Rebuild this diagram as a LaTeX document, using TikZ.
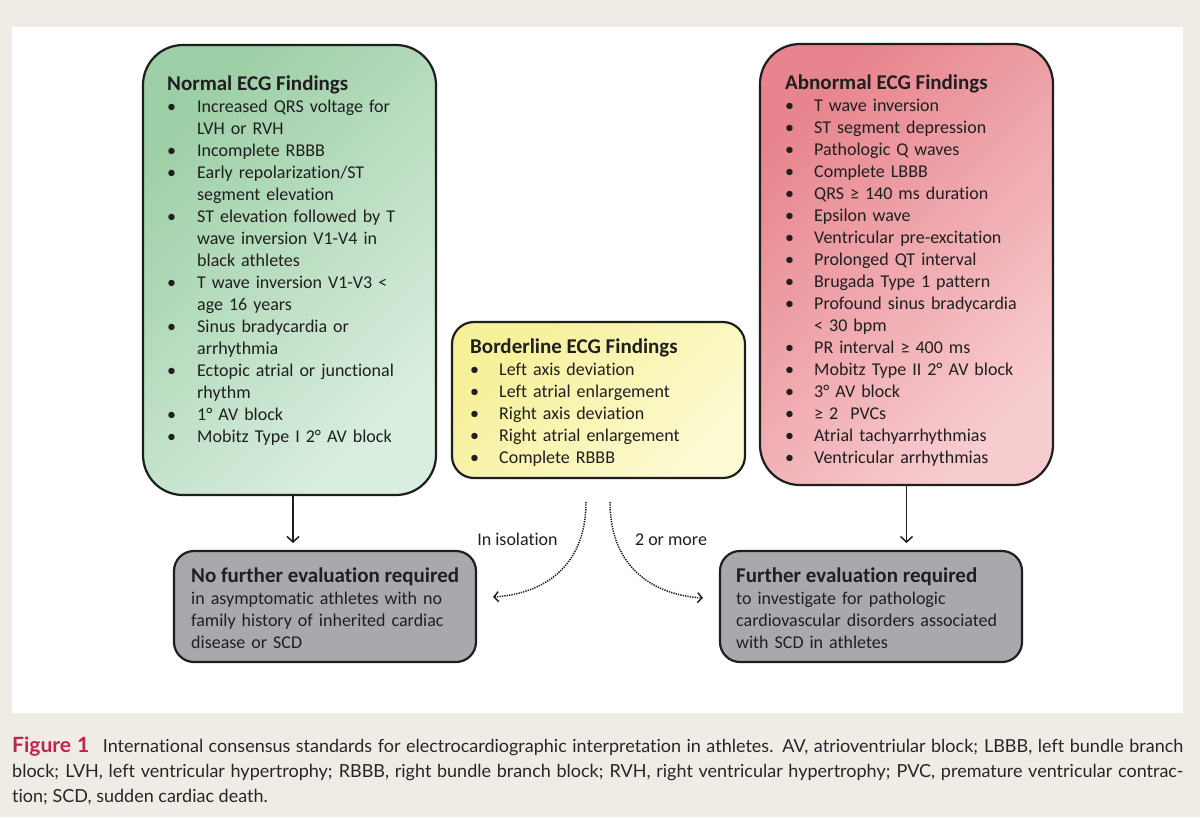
\documentclass[tikz,border=0pt]{standalone}
\usepackage{fontspec}
\setmainfont{Carlito}[Ligatures={NoCommon,NoContextual,NoRare}]
\newfontfamily\capfont{Lato}[Ligatures={NoCommon,NoContextual,NoRare}]
\usetikzlibrary{arrows.meta}
\definecolor{bgc}{HTML}{EEECE5}
\definecolor{grnA}{HTML}{9DCFA6}
\definecolor{grnB}{HTML}{DAEEE0}
\definecolor{redA}{HTML}{E8848D}
\definecolor{redB}{HTML}{F7CDD0}
\definecolor{yelA}{HTML}{F6F098}
\definecolor{yelB}{HTML}{FCFAD2}
\definecolor{grayb}{HTML}{A8A9AD}
\definecolor{bord}{HTML}{1E1E1E}
\definecolor{txt}{HTML}{1F1F1F}
\definecolor{figred}{HTML}{C4244C}
\definecolor{captxt}{HTML}{262626}
\newlength\bind
\newcommand\bi[1]{\par\noindent\strut\makebox[\bind][l]{\textbullet}#1}
\newcommand\cl[1]{\par\noindent\strut\hspace*{\bind}#1}
\newcommand\pl[1]{\par\noindent\strut#1}
\tikzset{
  box/.style={draw=bord, line width=2.2pt, anchor=north west, inner sep=0pt, outer sep=0pt},
  shadebox/.style={box, top color=#1A, bottom color=#1B, shading angle=45},
  ttl/.style={anchor=base west, inner sep=0pt, text=txt, font=\fontsize{21}{24}\selectfont\bfseries},
  lst/.style={anchor=north west, inner sep=0pt, text=txt, text width=320pt, align=left, font=\fontsize{18}{22}\selectfont},
  lbl/.style={anchor=base, inner sep=0pt, text=txt, font=\fontsize{18}{22}\selectfont},
  arr/.style={line width=1.5pt, draw=bord, -{Straight Barb[length=5.5pt,width=12pt,line width=1.5pt]}},
  dotarr/.style={line width=1.5pt, draw=bord, dash pattern=on 1.3pt off 1.1pt, -{Straight Barb[length=4.5pt,width=10pt,line width=1.4pt]}},
  captionline/.style={anchor=base west, inner sep=0pt, text=captxt, font=\capfont\fontsize{18}{25}\selectfont}
}
\begin{document}
\begin{tikzpicture}[x=1pt,y=-1pt]
\useasboundingbox (0,0) rectangle (1200,817);
\fill[bgc] (0,0) rectangle (1200,817);
\fill[white] (12,27) rectangle (1183,713);

% boxes
\node[shadebox=grn, rounded corners=40pt, minimum width=293pt, minimum height=450pt] (normal) at (143,45) {};
\node[shadebox=yel, rounded corners=22pt, minimum width=293pt, minimum height=156pt] (border) at (452,322) {};
\node[shadebox=red, rounded corners=40pt, minimum width=293pt, minimum height=441pt] (abnormal) at (760,44) {};
\node[box, fill=grayb, rounded corners=20pt, minimum width=302pt, minimum height=111pt] (noeval) at (174,551) {};
\node[box, fill=grayb, rounded corners=20pt, minimum width=302pt, minimum height=111pt] (eval) at (720,551) {};

% normal text
\node[ttl] (normalT) at (167,90) {Normal ECG Findings};
\node[lst] (normalL) at (167,90) {\setlength\bind{30pt}%
\bi{Increased QRS voltage for}
\cl{LVH or RVH}
\bi{Incomplete RBBB}
\bi{Early repolarization/ST}
\cl{segment elevation}
\bi{ST elevation followed by T}
\cl{wave inversion V1-V4 in}
\cl{black athletes}
\bi{T wave inversion V1-V3 <}
\cl{age 16 years}
\bi{Sinus bradycardia or}
\cl{arrhythmia}
\bi{Ectopic atrial or junctional}
\cl{rhythm}
\bi{1° AV block}
\bi{Mobitz Type I 2° AV block}};

% borderline text
\node[ttl] (borderT) at (470,353) {Borderline ECG Findings};
\node[lst] (borderL) at (470,353) {\setlength\bind{29pt}%
\bi{Left axis deviation}
\bi{Left atrial enlargement}
\bi{Right axis deviation}
\bi{Right atrial enlargement}
\bi{Complete RBBB}};

% abnormal text
\node[ttl] (abnormalT) at (785,89) {Abnormal ECG Findings};
\node[lst] (abnormalL) at (785,89) {\setlength\bind{29pt}%
\bi{T wave inversion}
\bi{ST segment depression}
\bi{Pathologic Q waves}
\bi{Complete LBBB}
\bi{QRS ≥ 140 ms duration}
\bi{Epsilon wave}
\bi{Ventricular pre-excitation}
\bi{Prolonged QT interval}
\bi{Brugada Type 1 pattern}
\bi{Profound sinus bradycardia}
\cl{< 30 bpm}
\bi{PR interval ≥ 400 ms}
\bi{Mobitz Type II 2° AV block}
\bi{3° AV block}
\bi{≥ 2\ \ PVCs}
\bi{Atrial tachyarrhythmias}
\bi{Ventricular arrhythmias}};

% gray boxes text
\node[ttl] (noevalT) at (191,582) {No further evaluation required};
\node[lst] (noevalL) at (191,582) {%
\pl{in asymptomatic athletes with no}
\pl{family history of inherited cardiac}
\pl{disease or SCD}};
\node[ttl] (evalT) at (736,582) {Further evaluation required};
\node[lst] (evalL) at (736,582) {%
\pl{to investigate for pathologic}
\pl{cardiovascular disorders associated}
\pl{with SCD in athletes}};

% straight arrows
\draw[arr, shorten >=8pt] ([xshift=3.5pt]normal.south) -- ([xshift=3.5pt]normal.south |- noeval.north);
\draw[arr, shorten >=8pt] (abnormal.south) -- (abnormal.south |- eval.north);

% dotted curved arrows
\coordinate (c1s) at (586,502);
\coordinate (c1e) at (493,597);
\coordinate (c2s) at (610,502);
\coordinate (c2e) at (703,598);
\draw[dotarr] (c1s) .. controls (586,568) and (542,594) .. (c1e);
\draw[dotarr] (c2s) .. controls (610,568) and (654,595) .. (c2e);
\node[lbl] (iso) at (517.5,545) {In isolation};
\node[lbl] (more) at (671,545) {2 or more};

% caption
\node[captionline] (cap1) at (12,752) {\makebox[1171pt][s]{\textcolor{figred}{\fontsize{21}{25}\selectfont\bfseries Figure 1}\hspace{8pt} International consensus standards for electrocardiographic interpretation in athletes. AV, atrioventriular block; LBBB, left bundle branch}};
\node[captionline] (cap2) at (12,777) {\makebox[1171pt][s]{block; LVH, left ventricular hypertrophy; RBBB, right bundle branch block; RVH, right ventricular hypertrophy; PVC, premature ventricular contrac-}};
\node[captionline] (cap3) at (12,802) {tion; SCD, sudden cardiac death.};
\end{tikzpicture}
\end{document}
